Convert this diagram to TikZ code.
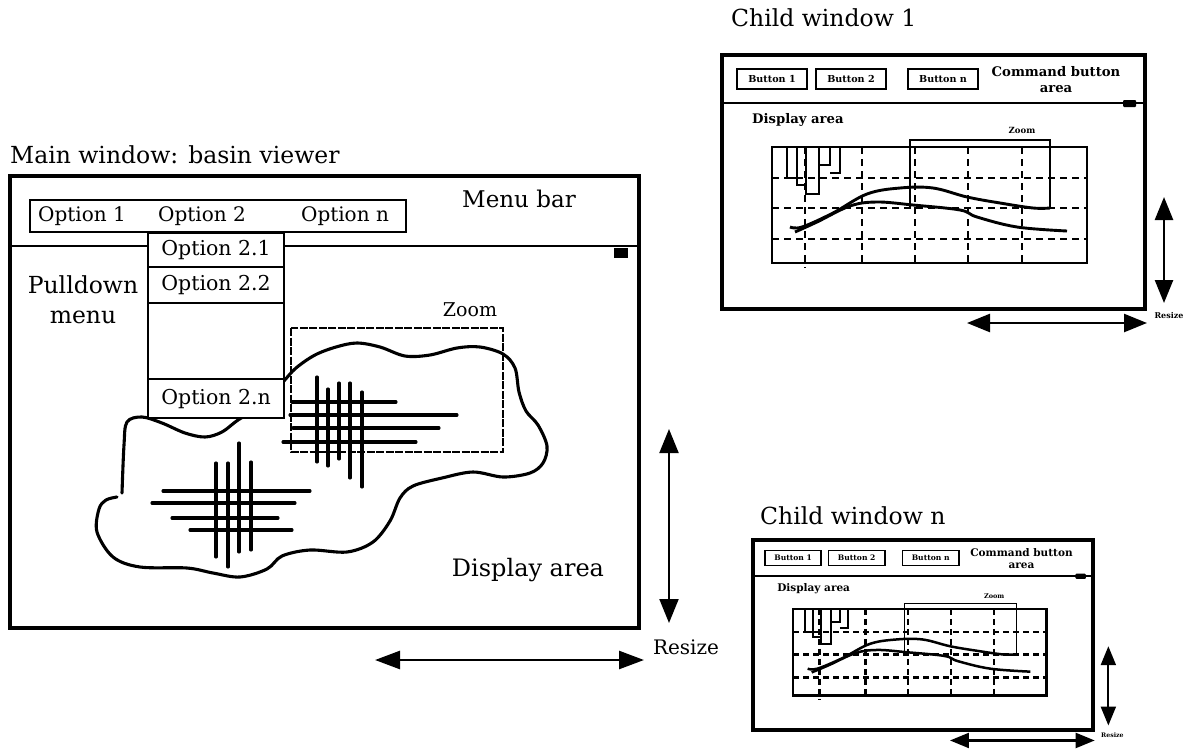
\documentclass[tikz,border=0pt]{standalone}
\usepackage{fontspec}
\setmainfont{DejaVu Serif}
\usetikzlibrary{arrows.meta}

% One child window, drawn in local coordinates and scaled into place.
% #1 name prefix, #2 shift, #3 xscale, #4 yscale
\newcommand\childwindow[4]{%
\begin{scope}[shift={#2}, xscale=#3, yscale=#4]
  \draw[cwframe] (0,0) rectangle (423,254);
  \draw[cwsep] (0,48) -- (423,48);
  \fill[rounded corners=1pt] (401,45) rectangle (414,52);
  \foreach \i/\x/\t in {1/50/Button 1, 2/129/Button 2, n/221/Button n} {
    \draw[cwbtnbox] (\x-35,14) rectangle (\x+35,34);
    \node[cwbtn] (#1-button\i) at (\x,24) {\t};
  }
  \node[cwbig, align=center] (#1-cmd) at (334,25) {Command button\\area};
  \node[cwbig, anchor=west] (#1-disp) at (30,65) {Display area};
  \node[cwtiny] (#1-zoom) at (300,75) {Zoom};
  % zoom bracket
  \draw[cwthin] (188,153) -- (188,85) -- (328,85) -- (328,153);
  % plot frame and dashed grid
  \draw[cwplot] (50,92) rectangle (365,208);
  \foreach \y in {123,153,184} \draw[cwdash] (50,\y) -- (365,\y);
  \foreach \x/\e in {83/213,140/208,193/208,246/208,300/208} \draw[cwdash] (\x,92) -- (\x,\e);
  % rainfall bars
  \draw[cwbar] (65,92) -- (65,123) -- (75,123) -- (75,92)
               (75,123) -- (75,130) -- (84,130) -- (84,92)
               (84,130) -- (84,139) -- (97,139) -- (97,92)
               (97,110) -- (108,110) -- (108,92)
               (108,118) -- (118,118) -- (118,92);
  % hydrographs
  \draw[cwcurve] plot[smooth, tension=0.6] coordinates
    {(68,172) (80,172) (111,158) (145,139) (178,133) (211,133) (245,142) (278,148) (311,153) (328,153)};
  \draw[cwcurve] plot[smooth, tension=0.6] coordinates
    {(73,177) (95,167) (128,151) (155,147) (191,150) (238,155) (255,162) (295,172) (345,176)};
  % resize arrows
  \coordinate (#1-vtop) at (442,142);
  \coordinate (#1-vbot) at (442,248);
  \coordinate (#1-hl) at (245,268);
  \coordinate (#1-hr) at (425,268);
  \draw[cwarrow] (#1-vtop) -- (#1-vbot);
  \draw[cwarrow] (#1-hl) -- (#1-hr);
  \node[cwresize] (#1-resize) at (447,261) {Resize};
\end{scope}}

\begin{document}
\begin{tikzpicture}[x=1pt, y=-1pt,
  lbl/.style={inner sep=0pt, font=\fontsize{20}{30}\selectfont},
  ttl/.style={inner sep=0pt, anchor=west, font=\fontsize{23.5}{26}\selectfont},
  winframe/.style={line width=4pt},
  menuline/.style={line width=2.2pt},
  pditem/.style={draw, line width=2.2pt, fill=white, inner sep=0pt,
    minimum width=136pt, anchor=north west, font=\fontsize{20.5}{24}\selectfont},
  stroke/.style={line width=3.1pt, line cap=round},
  zoombox/.style={line width=1.6pt, dash pattern=on 8pt off 1.5pt},
  bigtip/.style={{Triangle[length=24pt,width=19pt]}-{Triangle[length=24pt,width=19pt]}}
]
\useasboundingbox (0,0) rectangle (1186,753);

% ---------------- main window ----------------
\node[ttl] (maintitle) at (10,155) {Main window: basin viewer};
\draw[winframe] (10,176) rectangle (639,628);
\draw[line width=2.8pt] (10,246) -- (639,246);
\fill (614,248) rectangle (628,258);
\node[lbl, font=\fontsize{23}{26}\selectfont] (menubar) at (519,199) {Menu bar};

% basin outline
\draw[stroke] plot[smooth, tension=0.55] coordinates {
  (122,493) (124,445) (127,422) (142,417) (162,423) (185,433) (205,437)
  (222,432) (238,420) (262,405) (283,382) (296,368) (315,355) (336,347)
  (357,343) (380,347) (405,356) (430,355) (457,348) (480,347) (503,354)
  (515,368) (519,392) (526,411) (538,425) (547,446) (543,463) (530,473)
  (503,477) (473,472) (442,478) (413,486) (400,498) (390,521) (373,542)
  (347,552) (310,550) (282,556) (267,569) (240,577) (213,573) (187,568)
  (140,567) (113,557) (97,532) (99,509) (106,500) (117,497)};

% hatching, left
\foreach \a/\b/\y in {163/310/491, 152/295/503, 172/278/518, 190/292/530}
  \draw[stroke] (\a,\y) -- (\b,\y);
\foreach \x/\a/\b in {216/463/557, 228/463/567, 239/443/552, 251/462/550}
  \draw[stroke] (\x,\a) -- (\x,\b);
% hatching, right
\foreach \a/\b/\y in {292/396/402, 290/457/415, 293/439/428, 283/416/442}
  \draw[stroke] (\a,\y) -- (\b,\y);
\foreach \x/\a/\b in {317/377/462, 328/389/466, 339/383/459, 350/383/478, 362/392/487}
  \draw[stroke] (\x,\a) -- (\x,\b);

% zoom window
\draw[zoombox] (291,328) rectangle (503,452);
\node[lbl, font=\fontsize{19}{24}\selectfont] (zoom) at (470,310) {Zoom};

% menu bar options
\draw[menuline, fill=white] (30,200) rectangle (406,232);
\node[lbl] (opt1) at (82,216) {Option 1};
\node[lbl] (opt2) at (202,216) {Option 2};
\node[lbl] (optn) at (345,216) {Option n};

% pulldown menu
\node[pditem, minimum height=34pt] (opt21) at (147,232) {Option 2.1};
\node[pditem, minimum height=36pt] (opt22) at (147,266) {Option 2.2};
\node[pditem, minimum height=76pt] (optgap) at (147,302) {};
\node[pditem, minimum height=39pt] (opt2n) at (147,378) {Option 2.n};
\node[lbl, align=center, font=\fontsize{23.5}{30}\selectfont] (pulldown) at (83,300) {Pulldown\\menu};

\node[lbl, font=\fontsize{24}{28}\selectfont] (display) at (528,570) {Display area};

% resize arrows
\coordinate (mvtop) at (669,429);
\coordinate (mvbot) at (669,623);
\coordinate (mhl) at (375,660);
\coordinate (mhr) at (644,660);
\draw[line width=2pt, bigtip] (mvtop) -- (mvbot);
\draw[line width=2.6pt, {Triangle[length=25pt,width=18pt]}-{Triangle[length=25pt,width=18pt]}] (mhl) -- (mhr);
\node[lbl] (resize) at (686,647) {Resize};

% ---------------- child windows ----------------
\node[ttl] (c1title) at (731,18) {Child window 1};
\tikzset{
  cwframe/.style={line width=4pt},
  cwsep/.style={line width=2.8pt},
  cwbtnbox/.style={line width=2pt},
  cwbtn/.style={inner sep=0pt, font=\fontsize{9.6}{10}\bfseries},
  cwbig/.style={inner sep=0pt, font=\fontsize{13.2}{16}\bfseries},
  cwtiny/.style={inner sep=0pt, font=\fontsize{8.5}{9}\bfseries},
  cwresize/.style={inner sep=0pt, font=\fontsize{8}{9}\bfseries},
  cwthin/.style={line width=1.3pt},
  cwplot/.style={line width=2.8pt},
  cwdash/.style={line width=2.9pt, dash pattern=on 7pt off 5pt},
  cwbar/.style={line width=2.4pt},
  cwcurve/.style={line width=2.9pt},
  cwarrow/.style={line width=2.5pt, {Triangle[length=23pt,width=18pt]}-{Triangle[length=23pt,width=18pt]}}
}
\childwindow{cw1}{(722,55)}{1}{1}

\node[ttl] (cntitle) at (760,516) {Child window n};
\tikzset{
  cwframe/.style={line width=3.6pt},
  cwsep/.style={line width=2.5pt},
  cwbtnbox/.style={line width=1.8pt},
  cwbtn/.style={inner sep=0pt, font=\fontsize{7.6}{8}\bfseries},
  cwbig/.style={inner sep=0pt, font=\fontsize{10.5}{12}\bfseries},
  cwtiny/.style={inner sep=0pt, font=\fontsize{6.5}{7}\bfseries},
  cwresize/.style={inner sep=0pt, font=\fontsize{6.2}{7}\bfseries},
  cwthin/.style={line width=1.2pt},
  cwplot/.style={line width=2.4pt},
  cwdash/.style={line width=2.5pt, dash pattern=on 6pt off 4pt},
  cwbar/.style={line width=2pt},
  cwcurve/.style={line width=2.5pt},
  cwarrow/.style={line width=2.2pt, {Triangle[length=19pt,width=15pt]}-{Triangle[length=19pt,width=15pt]}}
}
\childwindow{cwn}{(753,540)}{0.804}{0.748}

\end{tikzpicture}
\end{document}
